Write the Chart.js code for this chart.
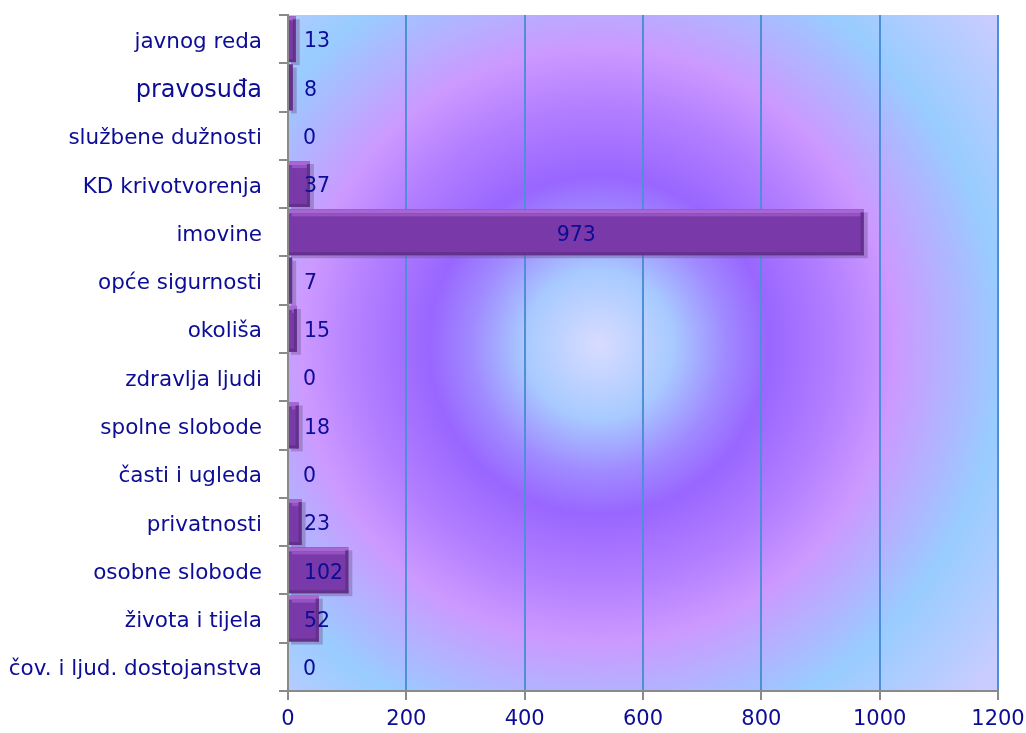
<!DOCTYPE html>
<html>
<head>
<meta charset="utf-8">
<script src="https://cdn.jsdelivr.net/npm/chart.js@4/dist/chart.umd.min.js"></script>
<style>
  html, body { margin: 0; padding: 0; background: #fff; }
  #wrap { width: 1026px; height: 733px; }
</style>
</head>
<body>
<div id="wrap"><canvas id="chart" width="1026" height="733"></canvas></div>
<script>
  // Categories top to bottom, as in the picture.
  const categories = [
    'javnog reda', 'pravosuđa', 'službene dužnosti', 'KD krivotvorenja', 'imovine',
    'opće sigurnosti', 'okoliša', 'zdravlja ljudi', 'spolne slobode', 'časti i ugleda',
    'privatnosti', 'osobne slobode', 'života i tijela', 'čov. i ljud. dostojanstva'
  ];
  const counts = [13, 8, 0, 37, 973, 7, 15, 0, 18, 0, 23, 102, 52, 0];
  const xTicks = [0, 200, 400, 600, 800, 1000, 1200];

  const textBlue = '#0c0c96';
  const fontFamily = '"DejaVu Sans", Verdana, sans-serif';

  // Radial background behind the plot area.
  const backdrop = {
    id: 'backdrop',
    beforeDraw: function (chart) {
      const a = chart.chartArea;
      const ctx = chart.ctx;
      const cx = chart.scales.x.getPixelForValue(525);
      const cy = (a.top + a.bottom) / 2 - 8;
      const g = ctx.createRadialGradient(cx, cy, 0, cx, cy, 530);
      g.addColorStop(0, '#d8dcff');
      g.addColorStop(0.14, '#a8caff');
      g.addColorStop(0.24, '#a08aff');
      g.addColorStop(0.32, '#9966ff');
      g.addColorStop(0.45, '#b37fff');
      g.addColorStop(0.56, '#cc99ff');
      g.addColorStop(0.76, '#99ccff');
      g.addColorStop(0.96, '#c8ccff');
      g.addColorStop(1, '#c8ccff');
      ctx.save();
      ctx.fillStyle = g;
      ctx.fillRect(a.left, a.top, a.right - a.left, a.bottom - a.top);
      ctx.restore();
    }
  };

  // Bevel look on bars plus value labels.
  const barDecor = {
    id: 'barDecor',
    beforeDatasetsDraw: function (chart) {
      const ctx = chart.ctx;
      const meta = chart.getDatasetMeta(0);
      ctx.save();
      meta.data.forEach(function (bar, i) {
        if (!counts[i]) return;
        const h = bar.height;
        const top = bar.y - h / 2;
        ctx.fillStyle = 'rgba(120, 90, 150, 0.45)';
        ctx.fillRect(bar.base + 2, top + 3, bar.x - bar.base + 2, h);
      });
      ctx.restore();
    },
    afterDatasetsDraw: function (chart) {
      const ctx = chart.ctx;
      const meta = chart.getDatasetMeta(0);
      ctx.save();
      meta.data.forEach(function (bar, i) {
        const h = bar.height;
        const top = bar.y - h / 2;
        const w = bar.x - bar.base;
        if (counts[i] && w > 4) {
          ctx.fillStyle = '#a766d4';
          ctx.fillRect(bar.base, top, w, 4);
          ctx.fillStyle = '#9354c2';
          ctx.fillRect(bar.base + 3, top + 4, w - 6, 3);
          ctx.fillStyle = '#62318c';
          ctx.fillRect(bar.base, top + h - 3, w, 3);
          ctx.fillRect(bar.x - 3, top + 3, 3, h - 3);
        } else if (counts[i]) {
          ctx.fillStyle = '#62318c';
          ctx.fillRect(bar.base, top, w, h);
        }
        ctx.font = '20.5px ' + fontFamily;
        ctx.fillStyle = textBlue;
        ctx.textAlign = 'left';
        ctx.textBaseline = 'middle';
        const label = String(counts[i]);
        const lw = ctx.measureText(label).width;
        const left = Math.max((bar.base + bar.x - lw) / 2, bar.base + 15);
        ctx.fillText(label, left, bar.y + 3);
      });
      ctx.restore();
    }
  };

  new Chart(document.getElementById('chart'), {
    type: 'bar',
    data: {
      labels: categories,
      datasets: [{
        data: counts,
        backgroundColor: '#7a39a8',
        borderWidth: 0,
        barPercentage: 0.95,
        categoryPercentage: 1
      }]
    },
    plugins: [backdrop, barDecor],
    options: {
      indexAxis: 'y',
      responsive: false,
      animation: false,
      layout: { padding: { top: 15, right: 28, left: 0, bottom: 0 } },
      plugins: {
        legend: { display: false },
        tooltip: { enabled: false }
      },
      scales: {
        x: {
          min: 0,
          max: 1200,
          afterBuildTicks: function (axis) {
            axis.ticks = xTicks.map(function (v) { return { value: v }; });
          },
          afterFit: function (axis) {
            axis.height = 42;
            axis.paddingLeft = 0;
            axis.paddingRight = 0;
          },
          grid: {
            color: '#4f8ed8',
            lineWidth: 2,
            tickColor: '#8a8a8a',
            tickLength: 9,
            drawTicks: true
          },
          border: { color: '#8a8a8a', width: 2 },
          ticks: {
            color: textBlue,
            font: { family: fontFamily, size: 21 },
            padding: 7,
            maxRotation: 0,
            callback: function (v) { return String(v); }
          }
        },
        y: {
          afterFit: function (axis) {
            axis.width = 288;
            axis.paddingTop = 0;
            axis.paddingBottom = 0;
          },
          grid: {
            offset: true,
            drawOnChartArea: false,
            tickColor: '#8a8a8a',
            tickLength: 9,
            lineWidth: 2
          },
          border: { color: '#8a8a8a', width: 2 },
          ticks: {
            color: textBlue,
            font: function (c) {
              return { family: fontFamily, size: c.index === 1 ? 24 : 21.5 };
            },
            padding: 17,
            labelOffset: 3
          }
        }
      }
    }
  });
</script>
</body>
</html>
